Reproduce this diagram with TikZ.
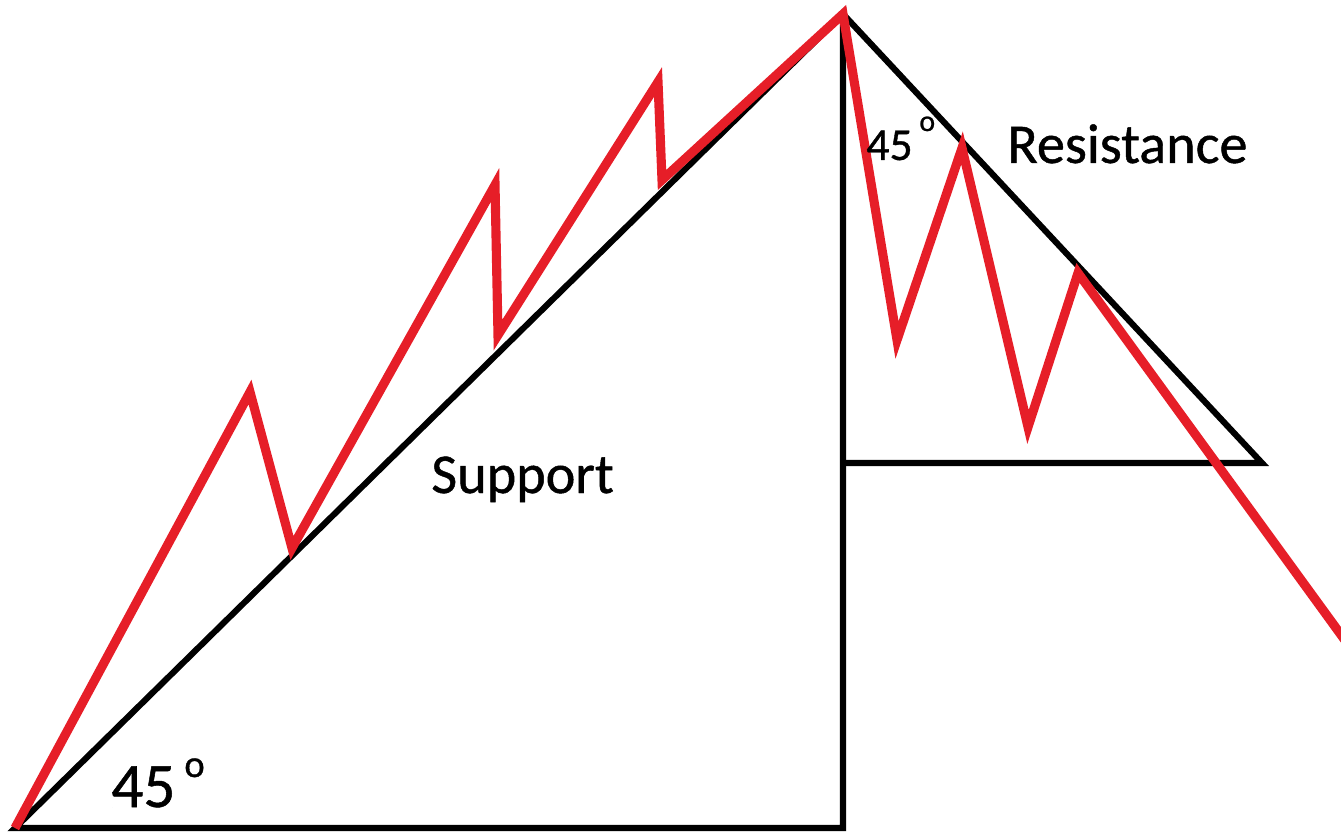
\documentclass[tikz,border=0pt]{standalone}
\usepackage{fontspec}
\setmainfont{Carlito}
\newfontfamily\lblfont[FakeBold=0.8]{Carlito}
\definecolor{zig}{RGB}{230,30,40}
\begin{document}
\begin{tikzpicture}[x=0.02cm,y=-0.02cm,
  blk/.style={draw=black,line width=3.5pt,line join=miter},
  redl/.style={draw=zig,line width=5.2pt,line join=miter},
  lbl/.style={inner sep=0pt,anchor=base west,text=black}]
\useasboundingbox (0,0) rectangle (1341,837);
% frame coordinates
\coordinate (O) at (15,828);
\coordinate (T) at (843,14);
\coordinate (B) at (843,828);
\coordinate (M) at (843,463);
\coordinate (R) at (1262,463);
% zigzag coordinates
\coordinate (p1) at (250,392);
\coordinate (t1) at (292,548);
\coordinate (p2) at (495,185);
\coordinate (t2) at (498,335);
\coordinate (p3) at (658,82);
\coordinate (t3) at (662,180);
\coordinate (a) at (897,340);
\coordinate (b) at (962,148);
\coordinate (c) at (1028,427);
\coordinate (d) at (1078,273);
\coordinate (e) at (1400,716);
% black frame
\draw[blk] (O) -- (B) -- (T) -- cycle;
\draw[blk] (T) -- (R) -- (M);
% red price path
\begin{scope}
\clip (0,0) rectangle (1341,837);
\draw[redl] (O) -- (p1) -- (t1) -- (p2) -- (t2) -- (p3) -- (t3) -- (T) -- (a) -- (b) -- (c) -- (d) -- (e);
\end{scope}
% labels
\node[lbl,font=\lblfont\fontsize{32}{32}\selectfont] (sup) at (431,493) {Support};
\node[lbl,font=\lblfont\fontsize{32}{32}\selectfont] (res) at (1007,163) {Resistance};
\node[lbl,font=\lblfont\fontsize{36}{36}\selectfont] (a1) at (111,807) {45};
\node[lbl,font=\lblfont\fontsize{22}{22}\selectfont] (o1) at (184,777) {o};
\node[lbl,font=\lblfont\fontsize{26}{26}\selectfont] (a2) at (866,160) {45};
\node[lbl,font=\lblfont\fontsize{17}{17}\selectfont] (o2) at (919,131) {o};
\end{tikzpicture}
\end{document}
